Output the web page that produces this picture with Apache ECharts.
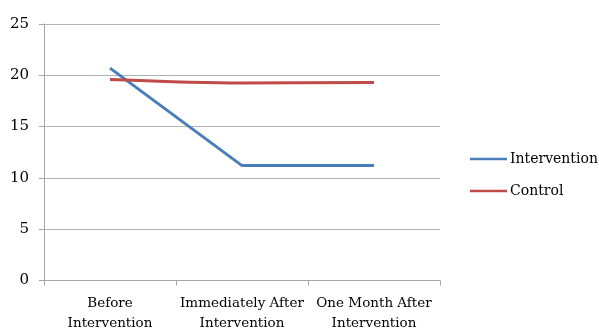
<!DOCTYPE html>
<html>
<head>
<meta charset="utf-8">
<script src="https://cdn.jsdelivr.net/npm/echarts@6/dist/echarts.min.js"></script>
<style>
  html, body { margin: 0; padding: 0; background: #fff; }
  #chart { width: 599px; height: 330px; }
</style>
</head>
<body>
<div id="chart"></div>
<script>
// Time points along the x axis
const categories = ['Before\nIntervention', 'Immediately After\nIntervention', 'One Month After\nIntervention'];
// Mean scores per group
const interventionValues = [20.7, 11.2, 11.2];
const controlValues = [19.6, 19.25, 19.3];
// Value axis ticks
const yTicks = [0, 5, 10, 15, 20, 25];

const FONT = 'DejaVu Serif';
const chart = echarts.init(document.getElementById('chart'), null, { renderer: 'canvas' });

chart.setOption({
  animation: false,
  textStyle: { fontFamily: FONT },
  grid: { left: 44, right: 159, top: 24, bottom: 49.5, containLabel: false, outerBoundsMode: 'none' },
  legend: {
    orient: 'vertical',
    left: 470,
    top: 152,
    padding: 0,
    itemWidth: 37,
    itemHeight: 14,
    itemGap: 18,
    icon: 'path://M0,6 L37,6 L37,8.5 L0,8.5 Z',
    textStyle: { fontFamily: FONT, fontSize: 14, color: '#000', padding: [0, 0, 0, -2] },
    data: ['Intervention', 'Control']
  },
  xAxis: {
    type: 'category',
    data: categories,
    boundaryGap: true,
    axisLine: { lineStyle: { color: '#a6a6a6', width: 1 } },
    axisTick: { show: true, length: 5, lineStyle: { color: '#a6a6a6' } },
    axisLabel: { interval: 0, fontFamily: FONT, fontSize: 13.5, color: '#000', lineHeight: 20, margin: 13 }
  },
  yAxis: {
    type: 'value',
    min: yTicks[0],
    max: yTicks[yTicks.length - 1],
    interval: 5,
    axisLine: { show: true, lineStyle: { color: '#a6a6a6', width: 1 } },
    axisTick: { show: true, length: 5, lineStyle: { color: '#a6a6a6' } },
    axisLabel: { fontFamily: FONT, fontSize: 15, color: '#000', margin: 15 },
    splitLine: { lineStyle: { color: '#b3b3b3', width: 1 } }
  },
  series: [
    {
      name: 'Intervention',
      type: 'line',
      data: interventionValues,
      symbol: 'none',
      lineStyle: { color: '#4a7ebb', width: 3 },
      itemStyle: { color: '#4a7ebb' }
    },
    {
      name: 'Control',
      type: 'line',
      data: controlValues,
      symbol: 'none',
      smooth: 0.3,
      lineStyle: { color: '#be4b48', width: 3 },
      itemStyle: { color: '#be4b48' }
    }
  ]
});
</script>
</body>
</html>
